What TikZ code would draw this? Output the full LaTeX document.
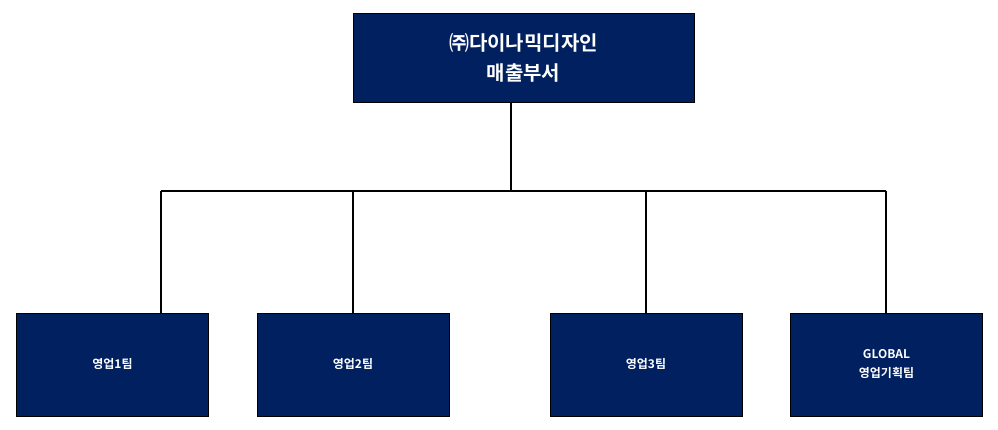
\documentclass[tikz,border=0pt]{standalone}
\usepackage{fontspec}
\setmainfont{Noto Sans CJK KR}[BoldFont={* Bold}]
\usetikzlibrary{positioning}
\definecolor{navy}{HTML}{002060}

\begin{document}
\begin{tikzpicture}[x=1pt,y=-1pt,
    dept/.style={draw=black,fill=navy,text=white,font=\bfseries,align=center,
                 minimum width=192pt,minimum height=103pt,inner sep=0pt},
    link/.style={draw=black,line width=1.2pt}]
  \useasboundingbox (0,0) rectangle (998,430);

  \node[dept,minimum width=341pt,minimum height=89pt,font=\bfseries\fontsize{20}{30}\selectfont] (top) at (523.5,57.5) {㈜다이나믹디자인\\매출부서};
  \node[dept,font=\bfseries\fontsize{12}{19}\selectfont] (t1) at (112.5,364.5) {영업1팀};
  \node[dept,font=\bfseries\fontsize{12}{19}\selectfont] (t2) at (353,364.5) {영업2팀};
  \node[dept,font=\bfseries\fontsize{12}{19}\selectfont] (t3) at (646,364.5) {영업3팀};
  \node[dept,font=\bfseries\fontsize{12}{19}\selectfont] (t4) at (886.5,364.5) {GLOBAL\\영업기획팀};

  \coordinate (hub) at (511,191);
  \coordinate (h1) at (161,191);
  \coordinate (h2) at (353,191);
  \coordinate (h3) at (646,191);
  \coordinate (h4) at (886,191);

  \draw[link] (hub |- top.south) -- (hub);
  \draw[link] (h1) -- (h4);
  \draw[link] (h1) -- (h1 |- t1.north);
  \draw[link] (h2) -- (t2.north);
  \draw[link] (h3) -- (t3.north);
  \draw[link] (h4) -- (h4 |- t4.north);
\end{tikzpicture}
\end{document}
